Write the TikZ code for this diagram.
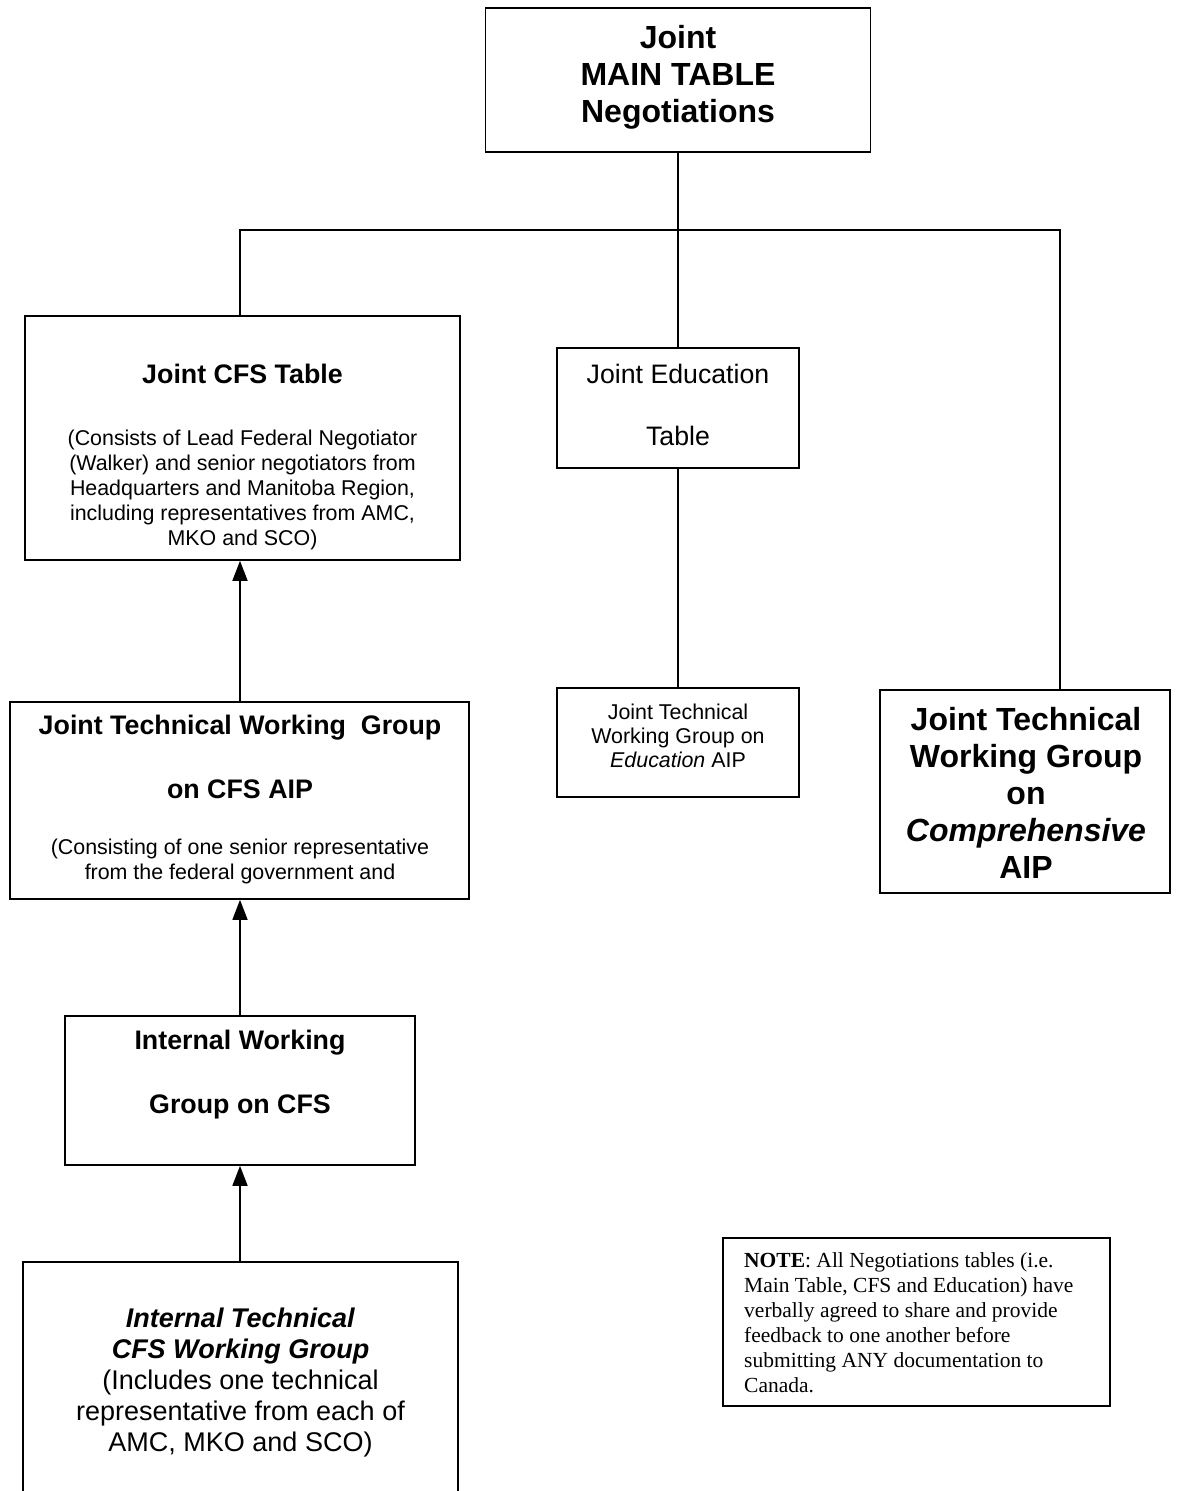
\documentclass[tikz,border=0pt]{standalone}
\usepackage{fontspec}
\setmainfont{Liberation Sans}
\newfontfamily\notefont{Liberation Serif}
\usetikzlibrary{arrows.meta}
\begin{document}
\begin{tikzpicture}[x=1pt,y=-1pt,
  box/.style={draw, line width=1.6pt, inner sep=0pt},
  conn/.style={line width=1.6pt},
  arr/.style={line width=1.6pt, -{Triangle[length=20pt,width=15pt]}},
  txt/.style={align=center, inner sep=0pt},
  big/.style={font=\fontsize{32}{37}\selectfont\bfseries},
  mid/.style={font=\fontsize{26.7}{30}\selectfont},
  midb/.style={font=\fontsize{26.8}{30}\selectfont\bfseries},
  small/.style={font=\fontsize{21.4}{25}\selectfont},
]
\useasboundingbox (0,0) rectangle (1176,1491);
\clip (0,0) rectangle (1176,1491);
\fill[white] (0,0) rectangle (1176,1491);

% boxes
\node[box, minimum width=385pt, minimum height=144pt] (main) at (678,80) {};
\node[box, minimum width=435pt, minimum height=244pt] (cfs) at (242.5,438) {};
\node[box, minimum width=242pt, minimum height=120pt] (edu) at (678,408) {};
\node[box, minimum width=242pt, minimum height=109pt] (eduwg) at (678,742.5) {};
\node[box, minimum width=290pt, minimum height=203pt] (comp) at (1025,791.5) {};
\node[box, minimum width=459pt, minimum height=197pt] (cfsaip) at (239.5,800.5) {};
\node[box, minimum width=350pt, minimum height=149pt] (iwg) at (240,1090.5) {};
\node[box, minimum width=435pt, minimum height=258pt] (itech) at (240.5,1391) {};
\node[box, minimum width=387pt, minimum height=168pt] (note) at (916.5,1322) {};

% texts
\node[txt, big] (tmain) at (678,77) {Joint\\MAIN TABLE\\Negotiations};
\node[txt, midb] (tcfs1) at (242.5,374) {Joint CFS Table};
\node[txt, small] (tcfs2) at (242.5,490) {(Consists of Lead Federal Negotiator\\(Walker) and senior negotiators from\\Headquarters and Manitoba Region,\\including representatives from AMC,\\MKO and SCO)};
\node[txt, mid] (tedu1) at (678,374) {Joint Education};
\node[txt, mid] (tedu2) at (678,436) {Table};
\node[txt, font=\fontsize{21.4}{24}\selectfont] (teduwg) at (678,736) {Joint Technical\\Working Group on\\\textit{Education} AIP};
\node[txt, big] (tcomp) at (1026,793) {Joint Technical\\Working Group\\on\\\textit{Comprehensive}\\AIP};
\node[txt, midb] (taip1) at (240,728) {Joint Technical Working\ \ Group};
\node[txt, midb] (taip2) at (240,789) {on CFS AIP};
\node[txt, small] (taip3) at (240,861) {(Consisting of one senior representative\\from the federal government and};
\node[txt, midb] (tiwg1) at (240,1043) {Internal Working};
\node[txt, midb] (tiwg2) at (240,1107) {Group on CFS};
\node[txt, font=\fontsize{27}{31}\selectfont] (titech) at (240.5,1382) {\textbf{\textit{Internal Technical}}\\\textbf{\textit{CFS Working Group}}\\(Includes one technical\\representative from each of\\AMC, MKO and SCO)};
\node[txt, align=left, anchor=west, font=\fontsize{21.5}{25}\notefont\selectfont] (tnote) at (744,1323) {\textbf{NOTE}: All Negotiations tables (i.e.\\Main Table, CFS and Education) have\\verbally agreed to share and provide\\feedback to one another before\\submitting ANY documentation to\\Canada.};

% connectors
\coordinate (busR) at (1060,230);
\draw[conn] (main.south) -- (edu.north);
\draw[conn] (cfs.north -| iwg.north) |- (busR) -- (busR |- comp.north);
\draw[conn] (edu.south) -- (eduwg.north);
\draw[arr] (cfsaip.north -| iwg.north) -- (cfs.south -| iwg.north);
\draw[arr] (iwg.north) -- (cfsaip.south -| iwg.north);
\draw[arr] (itech.north -| iwg.north) -- (iwg.south);
\end{tikzpicture}
\end{document}
